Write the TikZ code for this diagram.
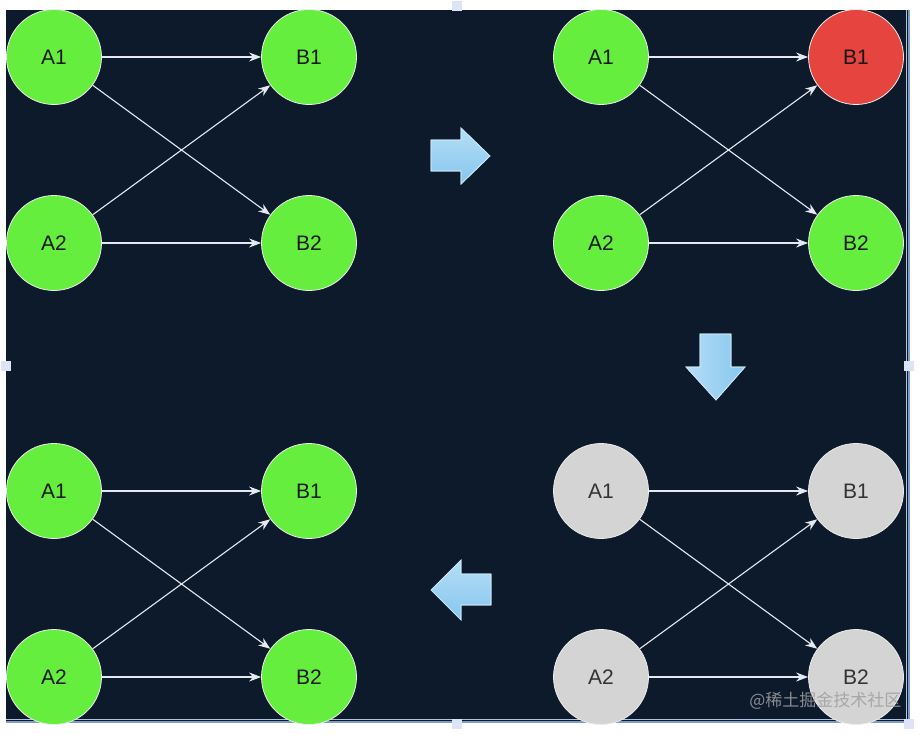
\documentclass[tikz,border=0pt]{standalone}
\usepackage{fontspec}
\setmainfont{Liberation Sans}
\newfontfamily\cjkfont{Noto Sans CJK SC}
\usetikzlibrary{arrows.meta,shadings}
\definecolor{bgnavy}{HTML}{0C1A2C}
\definecolor{nodegreen}{HTML}{66EE3E}
\definecolor{nodered}{HTML}{E5443F}
\definecolor{nodegray}{HTML}{D4D4D4}
\definecolor{arrowblue}{HTML}{86C6EE}
\definecolor{arrowlight}{HTML}{B5DEF6}
\definecolor{edgecol}{HTML}{E6EAF0}
\definecolor{selcol}{HTML}{7E9CC8}
\definecolor{handlecol}{HTML}{DCE4F6}
\tikzset{
  circ/.style={circle, minimum size=95pt, inner sep=0pt, draw=white!85!gray, line width=0.8pt, font=\fontsize{21}{21}\selectfont, text=black!90},
  gnode/.style={circ, fill=nodegreen},
  rnode/.style={circ, fill=nodered},
  ynode/.style={circ, fill=nodegray, text=black!80},
  conn/.style={draw=edgecol, line width=1.1pt, -{Stealth[length=12pt,width=9pt]}},
  blockarrow/.style={draw=arrowlight!70!white, line width=0.7pt, line join=miter},
  handle/.style={fill=handlecol, draw=none, minimum size=10pt, inner sep=0pt}
}
\begin{document}
\begin{tikzpicture}[x=1pt,y=-1pt]
\useasboundingbox (0,0) rectangle (920,734);
\fill[white] (0,0) rectangle (920,734);
\fill[bgnavy] (6,10) rectangle (909,722);
\draw[selcol, line width=2pt] (909,10) -- (909,722) -- (6,722);
\draw[selcol!60!white, line width=0.8pt] (906,10) -- (906,719) -- (6,719);

\foreach \ox/\oy/\sa/\sb/\sc/\sd/\pid in {0/0/gnode/gnode/gnode/gnode/p1, 547/0/gnode/rnode/gnode/gnode/p2, 0/434/gnode/gnode/gnode/gnode/p3, 547/434/ynode/ynode/ynode/ynode/p4}{
  \node[\sa] (\pid a1) at (54+\ox,57+\oy) {A1};
  \node[\sb] (\pid b1) at (309+\ox,57+\oy) {B1};
  \node[\sc] (\pid a2) at (54+\ox,243+\oy) {A2};
  \node[\sd] (\pid b2) at (309+\ox,243+\oy) {B2};
  \draw[conn] (\pid a1) -- (\pid b1);
  \draw[conn] (\pid a1) -- (\pid b2);
  \draw[conn] (\pid a2) -- (\pid b1);
  \draw[conn] (\pid a2) -- (\pid b2);
}

% right arrow
\shade[blockarrow, top color=arrowlight, bottom color=arrowblue]
  (431,140) -- (461,140) -- (461,128) -- (490,156) -- (461,184) -- (461,171) -- (431,171) -- cycle;
\draw[blockarrow]
  (431,140) -- (461,140) -- (461,128) -- (490,156) -- (461,184) -- (461,171) -- (431,171) -- cycle;
% down arrow
\shade[blockarrow, left color=arrowlight, right color=arrowblue]
  (700,334) -- (731,334) -- (731,367) -- (745,367) -- (716,400) -- (686,367) -- (700,367) -- cycle;
\draw[blockarrow]
  (700,334) -- (731,334) -- (731,367) -- (745,367) -- (716,400) -- (686,367) -- (700,367) -- cycle;
% left arrow
\shade[blockarrow, top color=arrowlight, bottom color=arrowblue]
  (491,574) -- (461,574) -- (461,560) -- (431,590) -- (461,620) -- (461,605) -- (491,605) -- cycle;
\draw[blockarrow]
  (491,574) -- (461,574) -- (461,560) -- (431,590) -- (461,620) -- (461,605) -- (491,605) -- cycle;

\node[handle] (h1) at (457,6) {};
\node[handle] (h2) at (6,366) {};
\node[handle] (h3) at (909,366) {};
\node[handle] (h4) at (457,724) {};
\node[handle] (h5) at (909,724) {};

\node[anchor=east, text=gray!75!white, opacity=0.85, font=\cjkfont\fontsize{17}{17}\selectfont] (wm) at (905,701) {@稀土掘金技术社区};
\end{tikzpicture}
\end{document}
